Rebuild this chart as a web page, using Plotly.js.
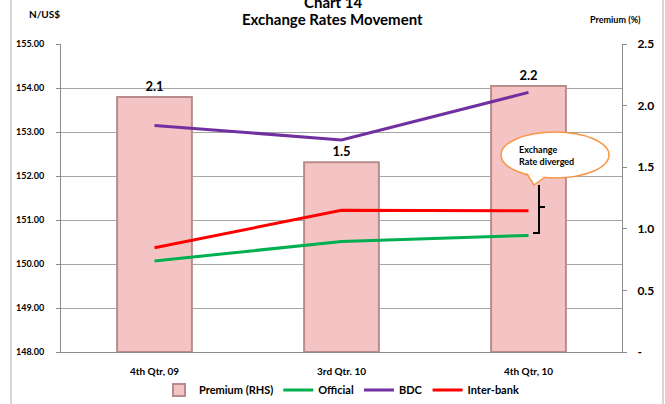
<!DOCTYPE html>
<html><head><meta charset="utf-8">
<script src="https://cdn.plot.ly/plotly-3.0.1.min.js"></script>
<style>html,body{margin:0;padding:0;background:#fff;}#chart{width:665px;height:404px;}</style>
</head><body><div id="chart"></div>
<script>
var categories = ["4th Qtr, 09", "3rd Qtr. 10", "4th Qtr, 10"];
var premium = [2.07, 1.54, 2.16];
var official = [150.07, 150.51, 150.65];
var bdc = [153.15, 152.82, 153.90];
var interbank = [150.37, 151.22, 151.21];
var rightTickVals = [0, 0.5, 1.0, 1.5, 2.0, 2.5];
var rightTickText = ["-", "0.5", "1.0", "1.5", "2.0", "2.5"];

var F = "Lato, 'Open Sans', sans-serif";
var traces = [
  {type:"bar", name:"Premium (RHS)", x:categories, y:premium, yaxis:"y", width:0.4,
   marker:{color:"#f4c4c4", line:{color:"#b88c8c", width:2}},
   texttemplate:"%{y:.1f}", textposition:"outside", cliponaxis:false,
   textfont:{family:F, size:13, color:"#000", weight:"bold"}},
  {type:"scatter", mode:"lines", name:"Official", x:categories, y:official, yaxis:"y2", line:{color:"#00b050", width:3}},
  {type:"scatter", mode:"lines", name:"BDC", x:categories, y:bdc, yaxis:"y2", line:{color:"#7030a0", width:3}},
  {type:"scatter", mode:"lines", name:"Inter-bank", x:categories, y:interbank, yaxis:"y2", line:{color:"#ff0000", width:3}}
];

function px2x(p){return (p-61)/561;}
function px2y(p){return (352-p)/308;}

var layout = {
  width:665, height:404,
  margin:{l:61, r:43, t:44, b:52, autoexpand:false},
  paper_bgcolor:"#fff", plot_bgcolor:"#fff",
  font:{family:F, size:10, color:"#000"},
  showlegend:true,
  legend:{orientation:"h", x:0.5, xanchor:"center", y:px2y(390), yanchor:"middle",
          font:{family:F, size:11, weight:"bold"}, traceorder:"normal"},
  xaxis:{type:"category", showgrid:false, showline:true, linecolor:"#8c8c8c", linewidth:1,
         ticks:"", tickfont:{family:F, size:10, weight:"bold"}, fixedrange:true, ticklabelstandoff:10},
  yaxis2:{range:[148,155], dtick:1, tickformat:".2f", showgrid:true, gridcolor:"#a6a6a6", gridwidth:1,
         overlaying:"y", side:"left",
         showline:true, linecolor:"#8c8c8c", linewidth:1, ticks:"outside", ticklen:4, tickcolor:"#8c8c8c",
         tickfont:{family:F, size:9, weight:"bold"}, zeroline:false, ticklabelstandoff:10},
  yaxis:{side:"right", range:[0,2.5], tickvals:rightTickVals, ticktext:rightTickText,
          showgrid:false, showline:true, linecolor:"#8c8c8c", linewidth:1, ticks:"outside", ticklen:4,
          tickcolor:"#8c8c8c", tickfont:{family:F, size:12, weight:"bold"}, zeroline:false, ticklabelstandoff:8},
  annotations:[
    {text:"Chart 14", xref:"paper", yref:"paper", x:px2x(333), y:px2y(2), showarrow:false,
     font:{family:F, size:15, weight:"bold"}, xanchor:"center", yanchor:"middle"},
    {text:"Exchange Rates Movement", xref:"paper", yref:"paper", x:px2x(332), y:px2y(19), showarrow:false,
     font:{family:F, size:15, weight:"bold"}, xanchor:"center", yanchor:"middle"},
    {text:"N/US$", xref:"paper", yref:"paper", x:px2x(44), y:px2y(14), showarrow:false,
     font:{family:F, size:10, weight:"bold"}, xanchor:"center", yanchor:"middle"},
    {text:"Premium (%)", xref:"paper", yref:"paper", x:px2x(615), y:px2y(20), showarrow:false,
     font:{family:F, size:9, weight:"bold"}, xanchor:"center", yanchor:"middle"},
    {text:"Exchange<br>Rate diverged", xref:"paper", yref:"paper", x:px2x(546), y:px2y(155), showarrow:false,
     font:{family:F, size:9, weight:"bold"}, xanchor:"center", yanchor:"middle", align:"left"}
  ],
  shapes:[
    {type:"line", xref:"paper", yref:"paper", x0:px2x(11), x1:px2x(11), y0:px2y(0), y1:px2y(404), line:{color:"#c8c8c8", width:1.5}},
    {type:"line", xref:"paper", yref:"paper", x0:px2x(663), x1:px2x(663), y0:px2y(0), y1:px2y(404), line:{color:"#c8c8c8", width:1.5}},
    {type:"circle", xref:"paper", yref:"paper", x0:px2x(501), x1:px2x(609), y0:px2y(132), y1:px2y(178),
     fillcolor:"#fff", line:{color:"#f79646", width:1.5}, layer:"above"},
    {type:"path", xref:"paper", yref:"paper",
     path:"M "+px2x(527)+","+px2y(174)+" L "+px2x(534)+","+px2y(185)+" L "+px2x(545)+","+px2y(177),
     fillcolor:"#fff", line:{color:"#f79646", width:1.5}, layer:"above"},
    {type:"path", xref:"paper", yref:"paper",
     path:"M "+px2x(539)+","+px2y(185)+" L "+px2x(539)+","+px2y(233)+" L "+px2x(533)+","+px2y(233)+
          " M "+px2x(539)+","+px2y(207)+" L "+px2x(545)+","+px2y(207),
     line:{color:"#000", width:2}, layer:"above"}
  ]
};
Plotly.newPlot("chart", traces, layout, {displayModeBar:false, staticPlot:true});
</script></body></html>
